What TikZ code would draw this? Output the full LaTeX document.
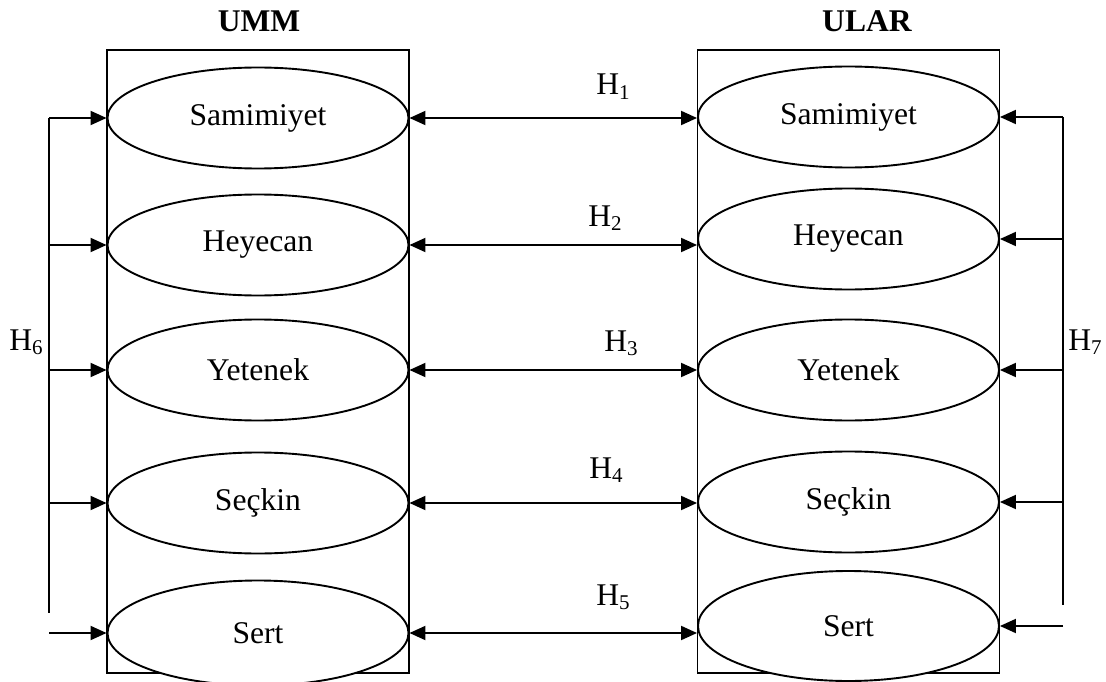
\documentclass[tikz,border=0pt]{standalone}
\usepackage{fontspec}
\setmainfont{Liberation Serif}
\usetikzlibrary{arrows.meta,shapes.geometric}
\newcommand{\hypname}[1]{H\raisebox{-4.5pt}{\fontsize{21}{24}\selectfont #1}}
\tikzset{
  bm/frame/.style={
    draw=black,
    line width=1.9pt,
    minimum width=302pt,
    minimum height=623pt,
    inner sep=0pt
  },
  bm/trait/.style={
    ellipse,
    draw=black,
    line width=1.9pt,
    fill=white,
    minimum width=301pt,
    minimum height=101pt,
    inner sep=0pt,
    font=\fontsize{31.6}{36}\selectfont
  },
  bm/title/.style={anchor=base, inner sep=0pt, font=\fontsize{31.6}{36}\selectfont\bfseries},
  bm/hyp/.style={anchor=base, inner sep=0pt, font=\fontsize{31.6}{36}\selectfont},
  bm/bus/.style={line width=1.9pt},
  bm/arrow/.style={-{Triangle[length=16pt,width=14pt]}, line width=1.9pt},
  bm/twoway/.style={{Triangle[length=16pt,width=14pt]}-{Triangle[length=16pt,width=14pt]}, line width=1.9pt}
}

\begin{document}
\begin{tikzpicture}[x=1pt,y=-1pt]
  \useasboundingbox (0,0) rectangle (1106,682);
  % frames and titles
  \node[bm/frame] (umm) at (258,361.5) {};
  \node[bm/frame] (ular) at (848.5,361.5) {};
  \node[bm/title] (ummt) at (259,32) {UMM};
  \node[bm/title] (ulart) at (867,32) {ULAR};
  % dimensions
  \node[bm/trait] (l1) at (258,118) {Samimiyet};
  \node[bm/trait] (l2) at (258,245) {Heyecan};
  \node[bm/trait] (l3) at (258,370) {Yetenek};
  \node[bm/trait] (l4) at (258,503) {Seçkin};
  \node[bm/trait,minimum height=105pt] (l5) at (258,633) {Sert};
  \node[bm/trait] (r1) at (848.5,117) {Samimiyet};
  \node[bm/trait] (r2) at (848.5,239) {Heyecan};
  \node[bm/trait] (r3) at (848.5,370) {Yetenek};
  \node[bm/trait] (r4) at (848.5,502) {Seçkin};
  \node[bm/trait,minimum height=110pt] (r5) at (848.5,626) {Sert};
  % links between the two sides
  \foreach \i in {1,...,5}
    \draw[bm/twoway] (l\i.east) -- (l\i.east -| r\i.west);
  \node[bm/hyp] (h1) at (613,95) {\hypname{1}};
  \node[bm/hyp] (h2) at (605,226) {\hypname{2}};
  \node[bm/hyp] (h3) at (621,351) {\hypname{3}};
  \node[bm/hyp] (h4) at (606,478) {\hypname{4}};
  \node[bm/hyp] (h5) at (613,605) {\hypname{5}};
  % side inputs
  \coordinate (lbus) at (49,0);
  \coordinate (lend) at (49,613);
  \coordinate (rbus) at (1063,0);
  \coordinate (rend) at (1063,605);
  \draw[bm/bus] (l1.west -| lbus) -- (lend);
  \draw[bm/bus] (r1.east -| rbus) -- (rend);
  \foreach \i in {1,...,5} {
    \draw[bm/arrow] (l\i.west -| lbus) -- (l\i.west);
    \draw[bm/arrow] (r\i.east -| rbus) -- (r\i.east);
  }
  \node[bm/hyp] (h6) at (26,350) {\hypname{6}};
  \node[bm/hyp] (h7) at (1085,350) {\hypname{7}};
\end{tikzpicture}
\end{document}
